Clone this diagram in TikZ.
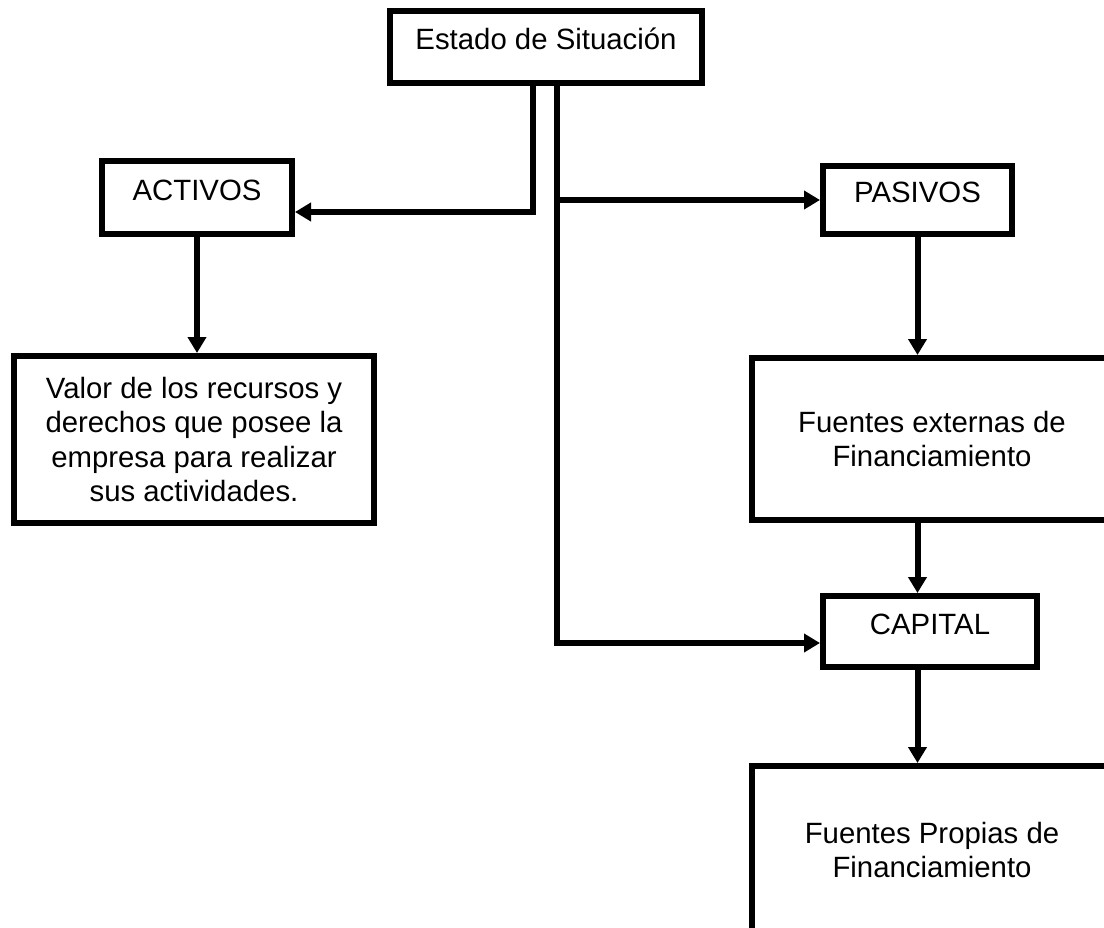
\documentclass[tikz,border=0pt]{standalone}
\usepackage{fontspec}
\setmainfont{Liberation Sans}
\usepackage{tikz}
\usetikzlibrary{
   arrows.meta,
   calc,
   positioning
}

\begin{document}
\begin{tikzpicture}[
    every node/.style={font=\fontsize{16.7}{19.4}\selectfont},
    box/.style={rectangle, draw, line width=0.12cm, align=center, inner sep=0pt, text height=0.72em, text depth=0.38em},
    bigbox/.style={rectangle, draw, line width=0.12cm, align=center, inner sep=0pt, minimum width=7.2cm},
    link/.style={line width=0.12cm, -{Triangle[length=0.32cm, width=0.36cm]}}
]

\useasboundingbox (0,0) rectangle (22.08,-18.56);
\clip (0,0) rectangle (22.08,-18.56);

% top box
\node[box, minimum width=6.24cm, minimum height=1.44cm] (estado) at (10.92,-0.94) {Estado de Situación};

% accounts
\node[box, minimum width=3.8cm, minimum height=1.46cm] (activos) at (3.94,-3.95) {ACTIVOS};
\node[box, minimum width=3.78cm, minimum height=1.36cm] (pasivos) at (18.35,-4.0) {PASIVOS};
\node[box, minimum width=4.28cm, minimum height=1.42cm] (capital) at (18.6,-12.63) {CAPITAL};

% descriptions
\node[bigbox, minimum height=3.34cm] (valor) at (3.88,-8.79) {Valor de los recursos y\\derechos que posee la\\empresa para realizar\\sus actividades.};
\node[bigbox, minimum height=3.24cm] (fext) at (18.64,-8.78) {Fuentes externas de\\Financiamiento};
\node[bigbox, minimum height=3.36cm] (fprop) at (18.64,-17.0) {Fuentes Propias de\\Financiamiento};

% lines leaving the top box
\coordinate (split1) at ([xshift=-0.26cm]estado.south);
\coordinate (split2) at ([xshift=0.22cm]estado.south);
\draw[link] (split1) |- ([yshift=-0.29cm]activos.east);
\draw[link] (split2 |- pasivos.west) -- (pasivos.west);
\draw[link] (split2) |- ([yshift=-0.23cm]capital.west);

% down arrows
\draw[link] (activos.south) -- (activos.south |- valor.north);
\draw[link] (pasivos.south) -- (pasivos.south |- fext.north);
\draw[link] (fext.south -| pasivos.south) -- (capital.north -| pasivos.south);
\draw[link] (capital.south -| pasivos.south) -- (fprop.north -| pasivos.south);

\end{tikzpicture}
\end{document}
